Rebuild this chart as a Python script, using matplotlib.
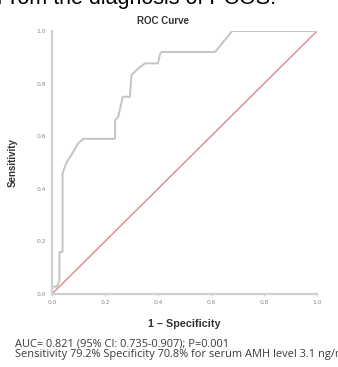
import matplotlib
matplotlib.use("Agg")
from matplotlib import pyplot as plt

# ROC curve points
fpr = [0.0, 0.0, 0.019, 0.028, 0.028, 0.04, 0.04, 0.055, 0.074, 0.099, 0.118,
       0.238, 0.238, 0.25, 0.267, 0.294, 0.30, 0.326, 0.351, 0.40, 0.408,
       0.414, 0.615, 0.68, 1.0]
tpr = [0.0, 0.028, 0.028, 0.05, 0.16, 0.16, 0.46, 0.50, 0.53, 0.573, 0.59,
       0.59, 0.66, 0.674, 0.75, 0.75, 0.833, 0.858, 0.877, 0.877, 0.915,
       0.92, 0.92, 1.0, 1.0]
ticks = [0.0, 0.2, 0.4, 0.6, 0.8, 1.0]
tick_labels = ['0.0', '0.2', '0.4', '0.6', '0.8', '1.0']

fig = plt.figure(figsize=(3.38, 3.67), dpi=100)
ax = fig.add_axes([0.1538, 0.199, 0.7842, 0.7165])

ax.plot([0, 1], [0, 1], color='#d88a8a', lw=1.0)
ax.plot(fpr, tpr, color='#c4c4c4', lw=1.4)

ax.set_xlim(0, 1)
ax.set_ylim(0, 1)
for s in ['top', 'right']:
    ax.spines[s].set_visible(False)
for s in ['left', 'bottom']:
    ax.spines[s].set_color('#d0d0d0')
    ax.spines[s].set_linewidth(1.6)
ax.set_xticks(ticks)
ax.set_xticklabels(tick_labels)
ax.set_yticks(ticks)
ax.set_yticklabels(tick_labels)
ax.tick_params(length=1.5, width=0.6, color='#c0c0c0', labelsize=4.3,
               labelcolor='#888888', pad=3)

ax.set_xlabel('1 \u2013 Specificity', fontsize=7.8, fontweight='bold',
              family='Liberation Sans', color='#333333', labelpad=10)
ax.set_ylabel('Sensitivity', fontsize=7, fontweight='bold',
              family='Liberation Sans', color='#333333', labelpad=13)
fig.text(163 / 338, 1 - 21 / 367, 'ROC Curve', fontsize=7,
         fontweight='bold', family='Liberation Sans', color='#333333',
         ha='center', va='center')

fig.text(-0.01, 1 - 4 / 367, 'From the diagnosis of PCOS.', fontsize=15.5,
         family='Liberation Sans', color='black', ha='left', va='baseline')

fig.text(15 / 338, 1 - 344 / 367, 'AUC= 0.821 (95% CI: 0.735-0.907); P=0.001',
         fontsize=7.9, family='Open Sans', color='#3a3a3a', ha='left',
         va='center')
fig.text(15 / 338, 1 - 354 / 367,
         'Sensitivity 79.2% Specificity 70.8% for serum AMH level 3.1 ng/ml',
         fontsize=7.9, family='Open Sans', color='#3a3a3a', ha='left',
         va='center')

fig.savefig('out.png', dpi=100)
